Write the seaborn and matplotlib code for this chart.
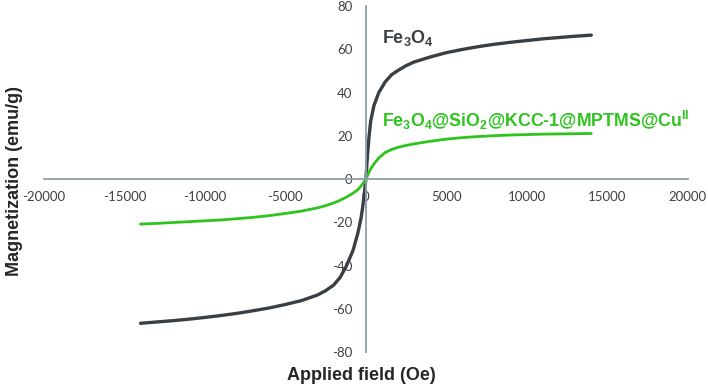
import matplotlib

matplotlib.use("Agg")
import matplotlib.pyplot as plt
import pandas as pd
import seaborn as sns

# Field values (Oe) and magnetization (emu/g)
field = [
    -14000, -13000, -12000, -11000, -10000, -9000, -8000, -7000, -6000,
    -5000, -4000, -3000, -2500, -2000, -1600, -1200, -800, -500, -300,
    -200, -100, 0, 100, 200, 300, 500, 800, 1200, 1600, 2000, 2500, 3000,
    4000, 5000, 6000, 7000, 8000, 9000, 10000, 11000, 12000, 13000, 14000,
]
fe3o4 = [
    -66.7, -66.1, -65.5, -64.8, -64.0, -63.1, -62.1, -60.9, -59.6,
    -58.0, -56.2, -53.6, -51.6, -49.0, -45.5, -40.0, -33.0, -25.0, -18.0,
    -13.0, -7.0, 0.0, 11.0, 20.0, 27.0, 34.0, 40.0, 45.0, 48.3, 50.3, 52.5, 54.2,
    56.5, 58.5, 60.0, 61.3, 62.4, 63.3, 64.1, 64.9, 65.5, 66.1, 66.6,
]
composite = [
    -20.8, -20.5, -20.1, -19.7, -19.3, -18.9, -18.3, -17.7, -16.9,
    -15.9, -14.8, -13.3, -12.3, -11.0, -9.8, -8.3, -6.5, -4.9, -3.2,
    -2.2, -1.1, 0.0, 1.6, 3.3, 4.8, 7.0, 9.8, 12.3, 13.7, 14.7, 15.6, 16.3,
    17.5, 18.5, 19.2, 19.7, 20.1, 20.4, 20.6, 20.8, 20.9, 21.0, 21.1,
]

x_ticks = list(range(-20000, 20001, 5000))
y_ticks = list(range(-80, 81, 20))

DARK = "#3a3f44"
GREEN = "#2dc41e"
SPINE = "#8a9eab"
TICK_TEXT = "#404040"


def main() -> None:
    sns.set_style("white")
    plt.rcParams["font.family"] = ["Liberation Sans", "DejaVu Sans"]
    plt.rcParams["axes.unicode_minus"] = False
    plt.rcParams["mathtext.fontset"] = "custom"
    plt.rcParams["mathtext.rm"] = "Liberation Sans:bold"
    plt.rcParams["mathtext.bf"] = "Liberation Sans:bold"
    plt.rcParams["mathtext.it"] = "Liberation Sans:bold"
    plt.rcParams["mathtext.default"] = "bf"

    df = pd.DataFrame({"field": field, "fe3o4": fe3o4, "composite": composite})

    fig = plt.figure(figsize=(7.08, 3.86), dpi=100)
    ax = fig.add_axes([0.062, 0.088, 0.9096, 0.896])

    sns.lineplot(data=df, x="field", y="fe3o4", color=DARK, linewidth=2.4,
                 sort=False, ax=ax)
    sns.lineplot(data=df, x="field", y="composite", color=GREEN, linewidth=2.0,
                 sort=False, ax=ax)

    ax.set_xlim(-20000, 20000)
    ax.set_ylim(-80, 80)
    ax.set_xticks(x_ticks)
    ax.set_yticks(y_ticks)
    ax.set_xlabel("")
    ax.set_ylabel("")

    # Axes crossing at the origin
    for side in ["top", "right"]:
        ax.spines[side].set_visible(False)
    for side in ["left", "bottom"]:
        ax.spines[side].set_position("zero")
        ax.spines[side].set_color(SPINE)
        ax.spines[side].set_linewidth(1.3)
    ax.tick_params(axis="both", direction="out", length=3.5, width=1.2,
                   color=SPINE, labelcolor=TICK_TEXT, labelsize=9.5)
    ax.tick_params(axis="x", pad=5)
    ax.tick_params(axis="y", pad=6)
    for lbl in ax.get_xticklabels() + ax.get_yticklabels():
        lbl.set_family(["Lato", "DejaVu Sans"])

    ax.text(1000, 65.5, "Fe$_3$O$_4$", color=DARK, fontsize=13,
            fontweight="bold", ha="left", va="center")
    ax.text(1000, 27.3, r"Fe$_3$O$_4$@SiO$_2$@KCC-1@MPTMS@Cu$^{II}$",
            color=GREEN, fontsize=12.8, fontweight="bold", ha="left",
            va="center")

    fig.text(0.511, 0.026, "Applied field (Oe)", fontsize=13,
             fontweight="bold", ha="center", va="center")
    fig.text(0.021, 0.53, "Magnetization (emu/g)", fontsize=13,
             fontweight="bold", ha="center", va="center", rotation=90)

    fig.savefig("out.png", dpi=100)


if __name__ == "__main__":
    main()
